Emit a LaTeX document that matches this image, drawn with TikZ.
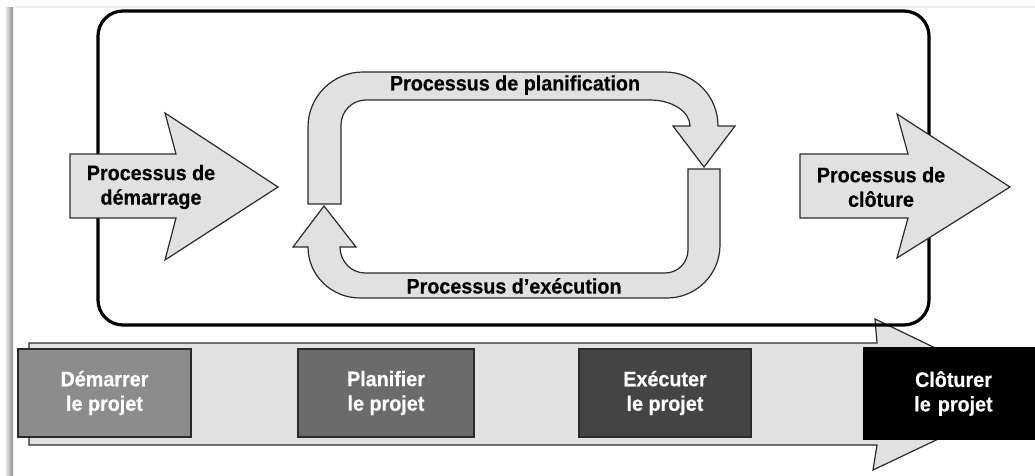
\documentclass[tikz,border=0pt]{standalone}
\usepackage{fontspec}
\setmainfont{Liberation Sans}
\newfontfamily\labelfont[FakeStretch=0.94, BoldFeatures={FakeBold=0.4}]{Liberation Sans}
\definecolor{arrowgray}{HTML}{E1E1E1}
\definecolor{edgegray}{HTML}{2B2B2B}
\definecolor{startgray}{HTML}{8B8C8B}
\definecolor{plangray}{HTML}{6B6B6B}
\definecolor{execgray}{HTML}{444444}
\tikzset{
  x=1pt, y=-1pt,
  flowshape/.style={fill=arrowgray, draw=edgegray, line width=1.2pt, line join=miter},
  lbl/.style={font=\labelfont\fontsize{21}{24.5}\selectfont\bfseries, text=black, inner sep=0pt, align=center},
  phasebox/.style={draw=edgegray, line width=2pt, minimum width=#1, minimum height=88pt,
    inner sep=0pt, text=white, align=center, font=\labelfont\fontsize{21}{24.5}\selectfont\bfseries},
  frame/.style={draw=black, line width=3.2pt, rounded corners=25pt}
}
\begin{document}
\begin{tikzpicture}
\useasboundingbox (0,0) rectangle (1035,476);
\clip (0,0) rectangle (1035,476);

% page edge shadow
\shade[left color=white, right color=black!45] (4,8) rectangle (13,476);
\fill[black!7] (13,6.5) rectangle (1035,8);

% timeline arrow along the bottom
\path[flowshape] (29,343) -- (877,343) -- (875,319) -- (1032,394.5) -- (873,470)
  -- (877,445) -- (29,445) -- cycle;

% project frame
\draw[frame] (98,11) rectangle (929,325);

% initiating and closing arrows
\path[flowshape] (70,154) -- (176,154) -- (165,113) -- (278,187) -- (165,260)
  -- (176,218) -- (70,218) -- cycle;
\path[flowshape] (800,154) -- (908,154) -- (897,114) -- (1010,187) -- (897,258)
  -- (908,218) -- (800,218) -- cycle;

% planning loop (upper half)
\path[flowshape] (308,204) -- (308,127)
  .. controls (308,96.6) and (332.6,72) .. (363,72) -- (665,72)
  .. controls (694.3,72) and (718,96.2) .. (718,126)
  -- (735,126) -- (704,167) -- (673,126) -- (690,126)
  .. controls (690,111.6) and (672.1,100) .. (650,100) -- (366,100)
  .. controls (352.2,100) and (341,111.2) .. (341,125) -- (341,204) -- cycle;

% execution loop (lower half)
\path[flowshape] (688,169) -- (720,169) -- (720,245)
  .. controls (720,274.3) and (696.3,298) .. (667,298) -- (360,298)
  .. controls (331.3,298) and (308,275.2) .. (308,247)
  -- (293,247) -- (324,206) -- (356,247) -- (340,247)
  .. controls (340,261.4) and (351.2,273) .. (365,273) -- (665,273)
  .. controls (677.7,273) and (688,262.7) .. (688,250) -- cycle;

% labels
\node[lbl, anchor=base] (plan) at (515,90.5) {Processus de planification};
\node[lbl, anchor=base] (exec) at (514,293.5) {Processus d’exécution};
\node[lbl] (init) at (151,187) {Processus de\\démarrage};
\node[lbl] (close) at (881,187) {Processus de\\clôture};

% project phases
\node[phasebox=173pt, fill=startgray] (p1) at (104.5,393) {Démarrer\\le projet};
\node[phasebox=176pt, fill=plangray] (p2) at (386,393) {Planifier\\le projet};
\node[phasebox=172pt, fill=execgray] (p3) at (665,393) {Exécuter\\le projet};
\node[phasebox=190pt, fill=black, draw=black, minimum height=91pt, text width=176pt,
  anchor=west] (p4) at (863,393.5) {\hspace*{-11pt}Clôturer\\\hspace*{-11pt}le projet};
\end{tikzpicture}
\end{document}
